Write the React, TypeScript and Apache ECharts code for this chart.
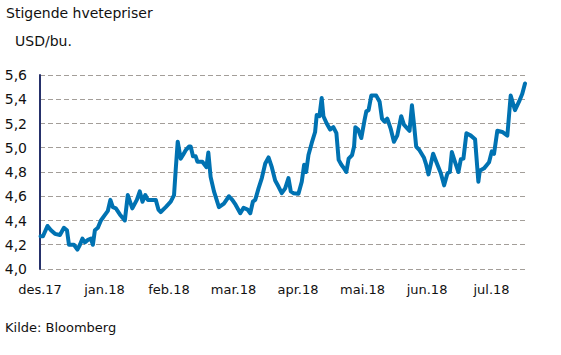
import React, { useEffect, useRef } from "react";
import * as echarts from "echarts";

const title = "Stigende hvetepriser";
const unit = "USD/bu.";
const source = "Kilde: Bloomberg";
const monthLabels = ["des.17", "jan.18", "feb.18", "mar.18", "apr.18", "mai.18", "jun.18", "jul.18"];
const yTicks = [4.0, 4.2, 4.4, 4.6, 4.8, 5.0, 5.2, 5.4, 5.6];

// time in months since 1 Dec 2017
const monthsSinceDec17 = [
  0.008, 0.046, 0.116, 0.17, 0.232, 0.309, 0.371, 0.418, 0.449, 0.526,
  0.58, 0.619, 0.657, 0.696, 0.743, 0.789, 0.82, 0.851, 0.897, 0.944,
  0.998, 1.052, 1.091, 1.129, 1.176, 1.238, 1.315, 1.361, 1.431, 1.501,
  1.547, 1.589, 1.632, 1.671, 1.733, 1.795, 1.836, 1.872, 1.949, 2.027,
  2.078, 2.104, 2.135, 2.181, 2.217, 2.259, 2.31, 2.336, 2.372, 2.413,
  2.44, 2.517, 2.579, 2.61, 2.645, 2.697, 2.774, 2.851, 2.929, 2.981,
  3.032, 3.105, 3.156, 3.218, 3.26, 3.3, 3.337, 3.388, 3.439, 3.492,
  3.543, 3.594, 3.646, 3.697, 3.748, 3.801, 3.852, 3.888, 3.929, 4.007,
  4.058, 4.095, 4.126, 4.162, 4.213, 4.265, 4.29, 4.332, 4.367, 4.394,
  4.445, 4.497, 4.548, 4.595, 4.63, 4.672, 4.714, 4.749, 4.785, 4.838,
  4.869, 4.889, 4.931, 4.981, 5.032, 5.059, 5.094, 5.136, 5.213, 5.265,
  5.302, 5.342, 5.384, 5.435, 5.487, 5.538, 5.6, 5.642, 5.693, 5.729,
  5.766, 5.797, 5.832, 5.883, 5.951, 5.987, 6.023, 6.095, 6.146, 6.214,
  6.265, 6.317, 6.354, 6.385, 6.436, 6.487, 6.524, 6.564, 6.611, 6.679,
  6.745, 6.796, 6.818, 6.884, 6.962, 7.004, 7.039, 7.09, 7.167, 7.245,
  7.297, 7.364, 7.426, 7.477, 7.519,
];

const wheatPrice = [
  4.27, 4.27, 4.355, 4.32, 4.29, 4.28, 4.34, 4.32, 4.2, 4.2,
  4.16, 4.2, 4.25, 4.22, 4.24, 4.25, 4.2, 4.32, 4.34, 4.4,
  4.44, 4.48, 4.57, 4.51, 4.5, 4.45, 4.4, 4.61, 4.5, 4.57,
  4.64, 4.555, 4.61, 4.57, 4.57, 4.57, 4.49, 4.47, 4.51, 4.555,
  4.61, 4.82, 5.05, 4.91, 4.94, 4.98, 5.01, 5.01, 4.93, 4.93,
  4.885, 4.885, 4.84, 4.96, 4.76, 4.64, 4.51, 4.54, 4.6, 4.57,
  4.53, 4.46, 4.505, 4.49, 4.46, 4.555, 4.57, 4.665, 4.75, 4.87,
  4.92, 4.84, 4.73, 4.68, 4.625, 4.665, 4.75, 4.64, 4.625, 4.62,
  4.72, 4.86, 4.8, 4.94, 5.04, 5.13, 5.27, 5.26, 5.41, 5.26,
  5.2, 5.15, 5.17, 5.12, 4.9, 4.86, 4.83, 4.8, 4.91, 4.94,
  5.01, 5.17, 5.15, 5.08, 5.23, 5.3, 5.31, 5.43, 5.43, 5.38,
  5.24, 5.215, 5.24, 5.16, 5.05, 5.1, 5.26, 5.19, 5.16, 5.14,
  5.35, 5.2, 5.01, 4.98, 4.92, 4.86, 4.78, 4.95, 4.88, 4.79,
  4.69, 4.79, 4.8, 4.965, 4.88, 4.8, 4.905, 4.91, 5.12, 5.1,
  5.07, 4.72, 4.81, 4.83, 4.88, 4.97, 4.95, 5.14, 5.13, 5.1,
  5.43, 5.31, 5.38, 5.445, 5.53,
];

const FONT = "DejaVu Sans";

export default function App() {
  const ref = useRef<HTMLDivElement>(null);
  useEffect(() => {
    document.body.style.margin = "0";
    document.body.style.overflow = "hidden";
    if (!ref.current) return;
    const chart = echarts.init(ref.current, null, { renderer: "svg" });
    const data = monthsSinceDec17.map((m, i) => [m, wheatPrice[i]]);
    chart.setOption({
      animation: false,
      backgroundColor: "#ffffff",
      textStyle: { fontFamily: FONT },
      graphic: [
        {
          type: "text",
          x: 6,
          y: 6,
          style: { text: title, fontFamily: FONT, fontSize: 14, fill: "#111111" },
        },
        {
          type: "text",
          x: 15,
          y: 34,
          style: { text: unit, fontFamily: FONT, fontSize: 14, fill: "#111111" },
        },
        {
          type: "text",
          x: 5,
          y: 321,
          style: { text: source, fontFamily: FONT, fontSize: 13, fill: "#111111" },
        },
      ],
      grid: { left: 40, right: 34, top: 75, bottom: 86, containLabel: false },
      xAxis: {
        type: "value",
        min: 0,
        max: 7.55,
        interval: 1,
        axisLine: { show: false },
        axisTick: { show: false },
        splitLine: { show: false },
        axisLabel: {
          margin: 14,
          fontSize: 13,
          color: "#111111",
          fontFamily: FONT,
          showMaxLabel: false,
          formatter: (v: number) => {
            const i = Math.round(v);
            return Math.abs(v - i) < 1e-6 && monthLabels[i] ? monthLabels[i] : "";
          },
        },
      },
      yAxis: {
        type: "value",
        min: yTicks[0],
        max: yTicks[yTicks.length - 1],
        interval: 0.2,
        axisLine: { show: true, lineStyle: { color: "#26316b", width: 2 } },
        axisTick: { show: false },
        splitLine: {
          show: true,
          lineStyle: { color: "#a39e99", type: [5, 3], width: 1 },
        },
        axisLabel: {
          margin: 13,
          fontSize: 14,
          color: "#111111",
          fontFamily: FONT,
          formatter: (v: number) => v.toFixed(1).replace(".", ","),
        },
      },
      series: [
        {
          type: "line",
          data,
          showSymbol: false,
          symbol: "none",
          lineStyle: { color: "#0072b2", width: 4, join: "round", cap: "round" },
          z: 5,
        },
      ],
    });
    return () => chart.dispose();
  }, []);
  return <div ref={ref} style={{ width: 561, height: 355 }} />;
}
